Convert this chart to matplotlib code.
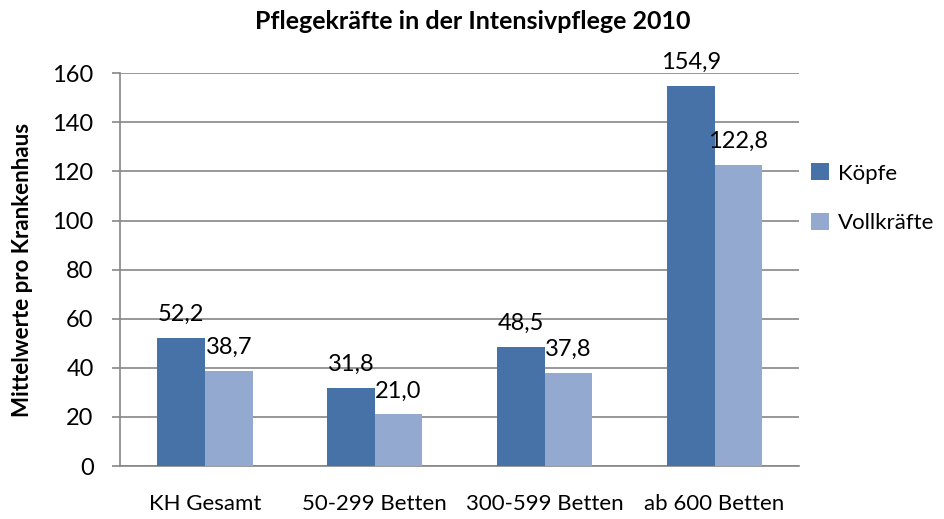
import matplotlib
matplotlib.use('Agg')
import matplotlib.pyplot as plt
import numpy as np

# Daten
categories = ['KH Gesamt', '50-299 Betten', '300-599 Betten', 'ab 600 Betten']
koepfe = [52.2, 31.8, 48.5, 154.9]
vollkraefte = [38.7, 21.0, 37.8, 122.8]
series_names = ['Köpfe', 'Vollkräfte']
yticks = [0, 20, 40, 60, 80, 100, 120, 140, 160]

plt.rcParams['font.family'] = ['Lato', 'DejaVu Sans']

fig = plt.figure(figsize=(9.45, 5.19), dpi=100)
ax = fig.add_axes([0.127, 0.102, 0.719, 0.757])

x = np.arange(len(categories))
w = 0.28
b1 = ax.bar(x - w / 2, koepfe, w, color='#4672A8', label=series_names[0], zorder=3)
b2 = ax.bar(x + w / 2, vollkraefte, w, color='#93A9CF', label=series_names[1], zorder=3)

# Werte über den Balken
for bars in (b1, b2):
    for bar in bars:
        h = bar.get_height()
        ax.annotate(f'{h:.1f}'.replace('.', ','),
                    (bar.get_x() + bar.get_width() / 2, h),
                    xytext=(0, 17), textcoords='offset points',
                    ha='center', va='center', fontsize=17)

ax.set_xlim(-0.5, len(categories) - 0.5)
ax.set_ylim(0, 160)
ax.set_yticks(yticks)
ax.set_xticks(x)
ax.set_xticklabels(categories, fontsize=16)
ax.tick_params(axis='y', labelsize=17, length=6, color='#868686', width=1.2, pad=13)
ax.tick_params(axis='x', length=0, pad=20)
ax.yaxis.grid(True, color='#868686', linewidth=1.2, zorder=0)

for s in ['top', 'right']:
    ax.spines[s].set_visible(False)
for s in ['left', 'bottom']:
    ax.spines[s].set_color('#868686')
    ax.spines[s].set_linewidth(1.2)

ax.set_ylabel('Mittelwerte pro Krankenhaus', fontsize=16, fontweight='bold')
ax.yaxis.set_label_coords(-0.128, 0.5)
fig.suptitle('Pflegekräfte in der Intensivpflege 2010', fontsize=18, fontweight='bold', y=0.98)

ax.legend(loc='center left', bbox_to_anchor=(0.988, 0.682), frameon=False,
          fontsize=16, handlelength=0.8, handleheight=0.8, labelspacing=1.3,
          handletextpad=0.4)

fig.savefig('out.png', dpi=100)
